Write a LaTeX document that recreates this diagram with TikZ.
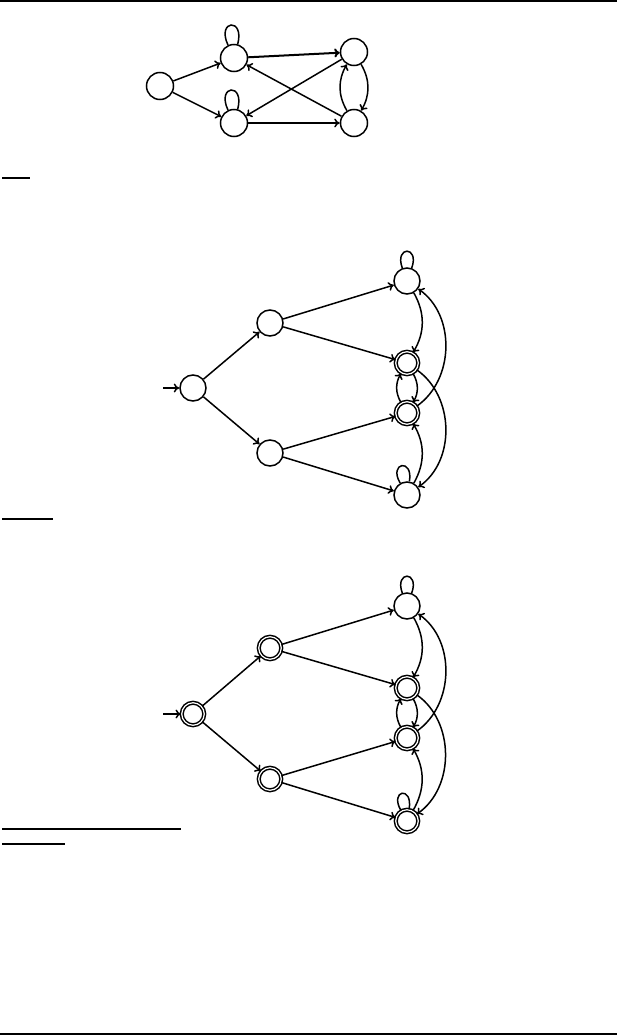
\documentclass[tikz,border=0pt]{standalone}
\usetikzlibrary{arrows.meta}
\begin{document}
\begin{tikzpicture}[x=1pt,y=1pt,line width=1.5pt,
  st/.style={circle,draw,minimum size=26pt,inner sep=0pt},
  bigst/.style={st,minimum size=27pt},
  acc/.style={st,double,double distance=1.2pt,minimum size=22.5pt},
  ed/.style={-{To[length=5.5pt,width=9pt]}},
  rul/.style={line width=2pt},
  lp/.style={out=#1+20,in=#1-20,looseness=1,min distance=24pt},
  lpa/.style={out=115,in=75,looseness=1,min distance=28pt}]
\useasboundingbox (0,0) rectangle (617,-1036);
% rules
\draw[line width=1.8pt] (0,-0.9) -- (617,-0.9);
\draw[line width=2.3pt] (0,-1034) -- (617,-1034);
\draw[rul] (2,-177.7) -- (30,-177.7);
\draw[rul] (2,-518.7) -- (53,-518.7);
\draw[rul] (2,-828.8) -- (180.5,-828.8);
\draw[rul] (2,-844) -- (65,-844);
% diagram 1
\node[bigst] (a0) at (160,-86) {};
\node[bigst] (a1) at (234,-58) {};
\node[bigst] (a2) at (234,-123) {};
\node[bigst] (a3) at (354,-52) {};
\node[bigst] (a4) at (354,-123) {};
\draw[ed] (a0) -- (a1);
\draw[ed] (a0) -- (a2);
\draw[ed,line width=2pt] (a1) -- (a3);
\draw[ed] (a2) -- (a4);
\draw[ed] (a3) -- (a2);
\draw[ed] (a4) -- (a1);
\draw[ed] (a3) to[bend left=30] (a4);
\draw[ed] (a4) to[bend left=30] (a3);
\draw (a1) to[lpa] (a1);
\draw (a2) to[lpa] (a2);
% diagram 2
\coordinate (i2) at (163,-388);
\node[st] (s2) at (193,-388) {};
\node[st] (u2) at (270,-323) {};
\node[st] (l2) at (270,-453) {};
\node[st] (p1) at (407,-281) {};
\node[acc] (p2) at (407,-363) {};
\node[acc] (p3) at (407,-413) {};
\node[st] (p4) at (407,-495) {};
\draw[ed] (i2) -- (s2);
\draw[ed] (s2) -- (u2);
\draw[ed] (s2) -- (l2);
\draw[ed] (u2) -- (p1);
\draw[ed] (u2) -- (p2);
\draw[ed] (l2) -- (p3);
\draw[ed] (l2) -- (p4);
\draw[ed] (p1) to[bend left=30] (p2);
\draw[ed] (p4) to[bend right=30] (p3);
\draw[ed] (p2) to[out=-60,in=60] (p3);
\draw[ed] (p3) to[out=120,in=-120] (p2);
\draw[ed] (p3) to[out=35,in=-35] (p1);
\draw[ed] (p2) to[out=-35,in=35] (p4);
\draw (p1) to[lp=90] (p1);
\draw (p4) to[lp=100] (p4);
% diagram 3
\coordinate (i3) at (163,-714);
\node[acc] (s3) at (193,-714) {};
\node[acc] (u3) at (270,-648) {};
\node[acc] (l3) at (270,-779) {};
\node[st] (r1) at (407,-606) {};
\node[acc] (r2) at (407,-688) {};
\node[acc] (r3) at (407,-738) {};
\node[acc] (r4) at (407,-821) {};
\draw[ed] (i3) -- (s3);
\draw[ed] (s3) -- (u3);
\draw[ed] (s3) -- (l3);
\draw[ed] (u3) -- (r1);
\draw[ed] (u3) -- (r2);
\draw[ed] (l3) -- (r3);
\draw[ed] (l3) -- (r4);
\draw[ed] (r1) to[bend left=30] (r2);
\draw[ed] (r4) to[bend right=30] (r3);
\draw[ed] (r2) to[out=-60,in=60] (r3);
\draw[ed] (r3) to[out=120,in=-120] (r2);
\draw[ed] (r3) to[out=35,in=-35] (r1);
\draw[ed] (r2) to[out=-35,in=35] (r4);
\draw (r1) to[lp=90] (r1);
\draw (r4) to[lp=100] (r4);
\end{tikzpicture}
\end{document}
